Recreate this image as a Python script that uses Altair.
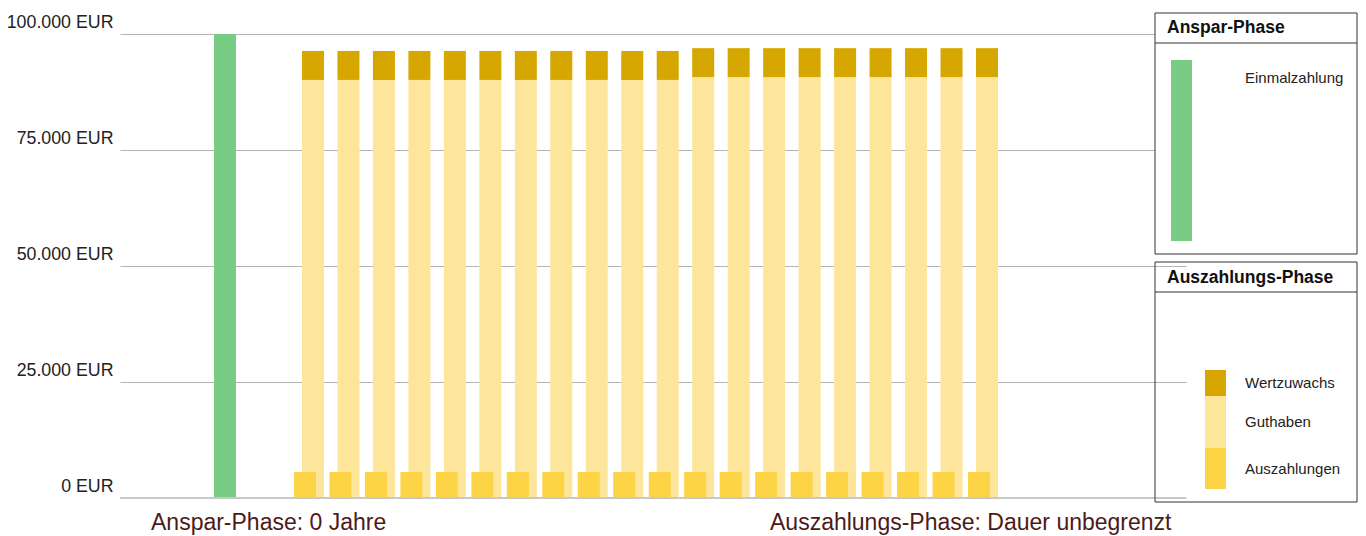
import altair as alt
import pandas as pd

# ---- data ----
auszahlungs_jahre = [1, 2, 3, 4, 5, 6, 7, 8, 9, 10, 11, 12, 13, 14, 15, 16, 17, 18, 19, 20]
guthaben = [90100, 90100, 90100, 90100, 90100, 90100, 90100, 90100, 90100, 90100, 90100,
            90700, 90700, 90700, 90700, 90700, 90700, 90700, 90700, 90700]
wertzuwachs = [6250, 6250, 6250, 6250, 6250, 6250, 6250, 6250, 6250, 6250, 6250,
               6250, 6250, 6250, 6250, 6250, 6250, 6250, 6250, 6250]
auszahlungen = [5600] * 20
einmal_slot = [-1.48]
einmalzahlung = [100000]
y_ticks = [0, 25000, 50000, 75000, 100000]

GREEN = "#78cc84"
GOLD = "#d5a700"
LIGHT = "#fde69b"
YELLOW = "#fdd445"
FONT = "Liberation Sans"

df = pd.DataFrame({"slot": auszahlungs_jahre, "guthaben": guthaben,
                   "wertzuwachs": wertzuwachs, "auszahlung": auszahlungen})
df_e = pd.DataFrame({"slot": einmal_slot, "wert": einmalzahlung})
one = pd.DataFrame({"a": [0]})

xs = alt.Scale(domain=[-4.44, 25.61], nice=False, zero=False, padding=0)
ys = alt.Scale(domain=[0, 100000], nice=False)

yaxis = alt.Axis(values=y_ticks, title=None, domain=False, ticks=False,
                 labelExpr="replace(format(datum.value, ',d'), ',', '.') + ' EUR'",
                 labelFont=FONT, labelFontSize=17.8, labelColor="#222222",
                 labelPadding=7, labelBaseline="alphabetic", labelOffset=-7,
                 labelFlush=False, grid=True, gridColor="#b4b4b4", gridWidth=1)

green = alt.Chart(df_e).mark_bar(size=22, color=GREEN).encode(
    x=alt.X("slot:Q", scale=xs, axis=None),
    y=alt.Y("wert:Q", scale=ys, axis=yaxis),
)
guth = alt.Chart(df).mark_bar(size=22, color=LIGHT).encode(
    x=alt.X("slot:Q", scale=xs, axis=None),
    y=alt.Y("guthaben:Q", scale=ys),
)
wert = alt.Chart(df).transform_calculate(top="datum.guthaben + datum.wertzuwachs").mark_bar(
    size=22, color=GOLD).encode(
    x=alt.X("slot:Q", scale=xs, axis=None),
    y=alt.Y("top:Q", scale=ys),
    y2="guthaben:Q",
)
ausz = alt.Chart(df).mark_bar(size=22, xOffset=-8, color=YELLOW).encode(
    x=alt.X("slot:Q", scale=xs, axis=None),
    y=alt.Y("auszahlung:Q", scale=ys),
)
zero_line = alt.Chart(one).mark_rule(color="#c8c8c8", strokeWidth=2).encode(
    y=alt.datum(0, scale=ys)
)

def box(x1, x2, y1, y2, fill):
    return alt.Chart(one).mark_rect(fill=fill, stroke="#333333", strokeWidth=1).encode(
        x=alt.value(x1), x2=alt.value(x2), y=alt.value(y1), y2=alt.value(y2))

def hline(x1, x2, y):
    return alt.Chart(one).mark_rule(color="#333333", strokeWidth=1).encode(
        x=alt.value(x1), x2=alt.value(x2), y=alt.value(y))

def swatch(x1, x2, y1, y2, color):
    return alt.Chart(one).mark_rect(color=color).encode(
        x=alt.value(x1), x2=alt.value(x2), y=alt.value(y1), y2=alt.value(y2))

def txt(s, x, y, size, bold=False, color="#222222", baseline="middle"):
    return alt.Chart(one).mark_text(text=s, align="left", baseline=baseline, font=FONT,
                                    fontSize=size, fontWeight="bold" if bold else "normal",
                                    color=color).encode(x=alt.value(x), y=alt.value(y))

legend = [
    box(1035, 1237, -21, 220, "white"),
    hline(1035, 1237, 9),
    txt("Anspar-Phase", 1047, -6, 17.5, bold=True, color="#111111"),
    swatch(1051, 1072, 26, 207, GREEN),
    txt("Einmalzahlung", 1125, 44, 15),
    box(1035, 1237, 228, 468, "transparent"),
    hline(1035, 1237, 258),
    txt("Auszahlungs-Phase", 1047, 244, 17.5, bold=True, color="#111111"),
    swatch(1085, 1106, 336, 362, GOLD),
    swatch(1085, 1106, 362, 414, LIGHT),
    swatch(1085, 1106, 414, 455, YELLOW),
    txt("Wertzuwachs", 1125, 349, 15),
    txt("Guthaben", 1125, 388, 15),
    txt("Auszahlungen", 1125, 435, 15),
    txt("Anspar-Phase: 0 Jahre", 31, 496, 23, color="#4d1a1a", baseline="alphabetic"),
    txt("Auszahlungs-Phase: Dauer unbegrenzt", 650, 496, 23, color="#4d1a1a", baseline="alphabetic"),
]

chart = alt.layer(green, guth, wert, ausz, zero_line, *legend).properties(
    width=1066, height=464,
    autosize=alt.AutoSizeParams(type="none"),
    padding={"left": 112, "top": 26, "right": 172, "bottom": 38},
).configure_view(stroke=None)

chart.save("out.html", embed_options={"renderer": "svg", "actions": False})
